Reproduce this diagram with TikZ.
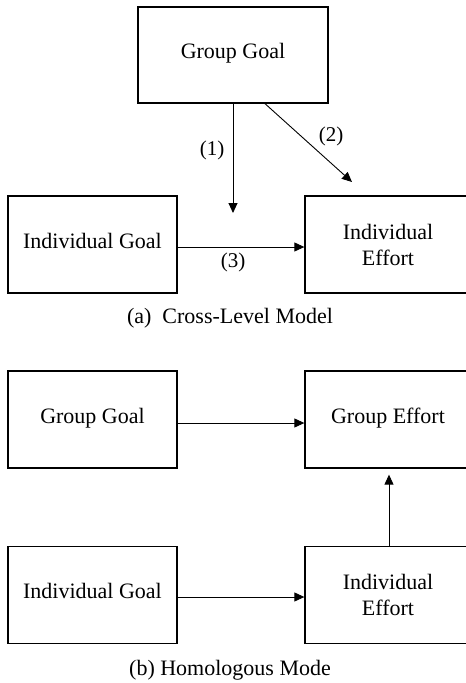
\documentclass[tikz,border=0pt]{standalone}
\usepackage{fontspec}
\setmainfont{Liberation Serif}
\usetikzlibrary{arrows.meta}
\begin{document}
\begin{tikzpicture}[x=1pt,y=-1pt,
  font=\fontsize{22}{26}\selectfont,
  box/.style={draw,line width=1.3pt,inner sep=0pt,align=center},
  onebox/.style={box,text height=15pt,text depth=8pt},
  lbox/.style={minimum width=169pt,minimum height=97pt},
  rbox/.style={minimum width=166pt,minimum height=97pt},
  arr/.style={line width=0.9pt,-{Triangle[length=10pt,width=9pt]}},
  tag/.style={inner sep=0pt,font=\fontsize{21}{24}\selectfont}]
\useasboundingbox (0,0) rectangle (466,683);

% (a) cross-level model
\node[onebox,minimum width=190pt,minimum height=96pt] (gga) at (233,55) {Group Goal};
\node[onebox,lbox] (iga) at (92.5,244.5) {Individual Goal};
\node[box,rbox] (iea) at (388,244.5) {Individual\\Effort};
\coordinate (t1) at (233,213);
\coordinate (t2) at (352,182);
\draw[arr] (gga.south) -- (t1);
\draw[arr] ([xshift=32pt]gga.south) -- (t2);
\draw[arr] ([yshift=-2.5pt]iga.east) -- ([yshift=-2.5pt]iea.west);
\node[tag] (l1) at (212,150) {(1)};
\node[tag] (l2) at (331,136) {(2)};
\node[tag] (l3) at (233,262) {(3)};
\node[inner sep=0pt] (capa) at (230,318) {(a)\ \ Cross-Level Model};

% (b) homologous model
\node[onebox,lbox] (ggb) at (92.5,419.5) {Group Goal};
\node[onebox,rbox] (geb) at (388,419.5) {Group Effort};
\node[onebox,lbox] (igb) at (92.5,595) {Individual Goal};
\node[box,rbox] (ieb) at (388,595) {Individual\\Effort};
\draw[arr] ([yshift=-3.5pt]ggb.east) -- ([yshift=-3.5pt]geb.west);
\draw[arr] ([yshift=-2pt]igb.east) -- ([yshift=-2pt]ieb.west);
\draw[arr,shorten >=6pt] ([xshift=1pt]ieb.north) -- ([xshift=1pt]geb.south);
\node[inner sep=0pt] (capb) at (230,670) {(b) Homologous Mode};
\end{tikzpicture}
\end{document}
